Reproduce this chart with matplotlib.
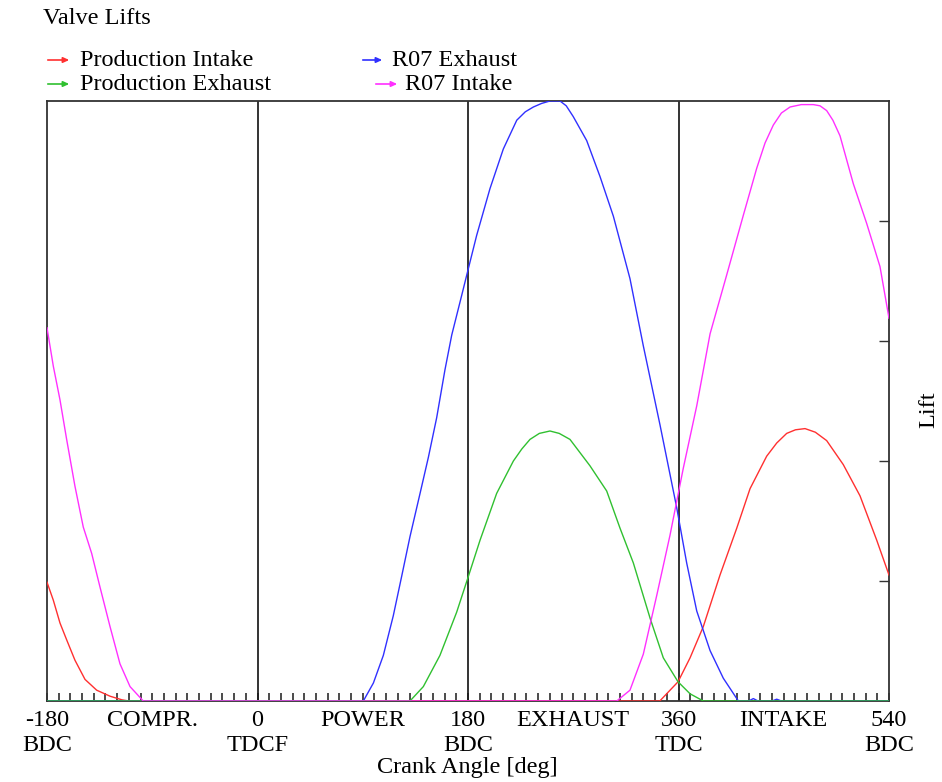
import matplotlib
matplotlib.use("Agg")
import matplotlib.pyplot as plt
from matplotlib.ticker import MultipleLocator, FixedLocator

# ---- data ----
prod_intake_deg = [-180, -174.6, -168.9, -163.2, -156.1, -147.5, -137.5, -126.1, -116, -110,
                   344, 359.6, 369.9, 381.2, 395.5, 409.8, 421.2, 435.4, 444, 452.5, 460, 468.2,
                   477, 486.7, 500.9, 515.2, 529.5, 540]
prod_intake_lift = [0.99, 0.84, 0.65, 0.51, 0.34, 0.18, 0.09, 0.04, 0.01, 0,
                    0, 0.16, 0.36, 0.62, 1.05, 1.44, 1.77, 2.04, 2.15, 2.23, 2.26, 2.27,
                    2.24, 2.17, 1.97, 1.71, 1.34, 1.05]

prod_exhaust_deg = [-180, 130.4, 141.8, 156, 170.3, 179.7, 190.3, 204.5, 218.8, 226, 233, 241, 250.1,
                    258, 267.2, 284.3, 298.6, 310, 321.4, 335.7, 347, 359.6, 369.9, 381.2, 540]
prod_exhaust_lift = [0, 0, 0.12, 0.38, 0.74, 1.02, 1.34, 1.73, 2.0, 2.1, 2.18, 2.23, 2.25,
                     2.23, 2.18, 1.96, 1.75, 1.44, 1.15, 0.69, 0.36, 0.16, 0.06, 0, 0]

r07_exhaust_deg = [-180, 90.5, 99.1, 107.6, 116.1, 123.3, 130.4, 139, 146.1, 153.2, 160.3,
                   166.1, 174.6, 179.7, 187.4, 198.8, 210.2, 221.7, 229, 235.9, 243, 250.1, 258.7,
                   264, 270, 281.5, 292.9, 304.3, 318.5, 329.9, 344.2, 358.5, 367, 375.6,
                   387, 398.3, 411.2, 420, 424, 428, 440, 444, 448, 540]
r07_exhaust_lift = [0, 0, 0.15, 0.38, 0.71, 1.04, 1.37, 1.73, 2.03, 2.36, 2.76,
                    3.05, 3.38, 3.58, 3.88, 4.27, 4.60, 4.84, 4.91, 4.95, 4.98, 5.0, 5.0,
                    4.96, 4.87, 4.67, 4.37, 4.04, 3.52, 2.96, 2.30, 1.61, 1.15, 0.75,
                    0.42, 0.19, 0, 0, 0.02, 0, 0, 0.015, 0, 0]

r07_intake_deg = [-180, -174.6, -168.9, -163.2, -156.1, -149, -141.8, -134.7, -126.1, -117.6,
                  -109, -97.7, 307.2, 318.5, 329.9, 341.4, 352.7, 364.1, 375.6, 387,
                  401.2, 415.5, 426.9, 434, 441.1, 448, 455.4, 465, 475.3, 481, 486.7, 492,
                  498.1, 509.5, 520.9, 532.3, 540]
r07_intake_lift = [3.11, 2.79, 2.51, 2.18, 1.79, 1.45, 1.23, 0.95, 0.62, 0.31,
                   0.12, 0, 0, 0.09, 0.39, 0.88, 1.38, 1.94, 2.46, 3.06,
                   3.55, 4.05, 4.44, 4.65, 4.80, 4.90, 4.95, 4.97, 4.97, 4.96, 4.92, 4.84,
                   4.71, 4.31, 3.98, 3.62, 3.19]

tick_positions = [-180, -90, 0, 90, 180, 270, 360, 450, 540]
tick_labels = ["-180\nBDC", "COMPR.", "0\nTDCF", "POWER", "180\nBDC",
               "EXHAUST", "360\nTDC", "INTAKE", "540\nBDC"]
phase_lines = [0, 180, 360]

series_names = ["Production Intake", "Production Exhaust", "R07 Exhaust", "R07 Intake"]
c_red, c_green, c_blue, c_mag = "#ff3030", "#30c030", "#3030ff", "#ff30ff"

# ---- figure ----
W, H = 942, 782
plt.rcParams['font.family'] = ['Liberation Serif', 'DejaVu Serif']
FS = 17.5
fig = plt.figure(figsize=(W / 100, H / 100), dpi=100)
ax = fig.add_axes([47 / W, 1 - 701 / H, (889 - 47) / W, (701 - 101) / H])

for x in phase_lines:
    ax.axvline(x, color="#111111", lw=1.2, zorder=1)

ax.plot(prod_intake_deg, prod_intake_lift, color=c_red, lw=1.0, zorder=3)
ax.plot(r07_exhaust_deg, r07_exhaust_lift, color=c_blue, lw=1.0, zorder=4)
ax.plot(prod_exhaust_deg, prod_exhaust_lift, color=c_green, lw=1.0, zorder=5)
ax.plot(r07_intake_deg, r07_intake_lift, color=c_mag, lw=1.0, zorder=6)

ax.set_xlim(-180, 540)
ax.set_ylim(0, 5)

ax.xaxis.remove_overlapping_locs = False
ax.xaxis.set_major_locator(FixedLocator(tick_positions))
ax.set_xticklabels(tick_labels, fontsize=FS, linespacing=1.3)
ax.xaxis.set_minor_locator(MultipleLocator(10))
ax.tick_params(axis='x', which='major', length=0, pad=6.2)
ax.tick_params(axis='x', which='minor', direction='in', length=5.5, width=1.1, color='#1a1a1a')

ax.yaxis.set_major_locator(FixedLocator([1, 2, 3, 4]))
ax.yaxis.tick_right()
ax.tick_params(axis='y', which='major', direction='in', length=7.5, width=1.0,
               color='#333333', labelright=False, labelleft=False)

for s in ax.spines.values():
    s.set_color('#333333')
    s.set_linewidth(1.3)

fig.text(467 / W, 1 - 768 / H, "Crank Angle [deg]", fontsize=FS, ha='center', va='center')
fig.text(929 / W, 1 - 410 / H, "Lift", fontsize=FS, ha='center', va='center', rotation=90)
fig.text(43 / W, 1 - 18 / H, "Valve Lifts", fontsize=FS, ha='left', va='center')

# legend (arrow glyph + label)
legend_items = [
    (series_names[0], c_red, 45, 72, 80, 60),
    (series_names[1], c_green, 45, 72, 80, 84),
    (series_names[2], c_blue, 360, 385, 392, 60),
    (series_names[3], c_mag, 373, 400, 405, 84),
]
for name, col, x0, x1, xt, y in legend_items:
    fig.add_artist(matplotlib.patches.FancyArrowPatch(
        (x0 / W, 1 - y / H), (x1 / W, 1 - y / H), transform=fig.transFigure,
        arrowstyle='-|>,head_length=3.5,head_width=1.6', color=col, lw=1.2,
        mutation_scale=1))
    fig.text(xt / W, 1 - (y + 1) / H, name, fontsize=FS, ha='left', va='center')

fig.savefig("out.png", dpi=100, facecolor='white')
